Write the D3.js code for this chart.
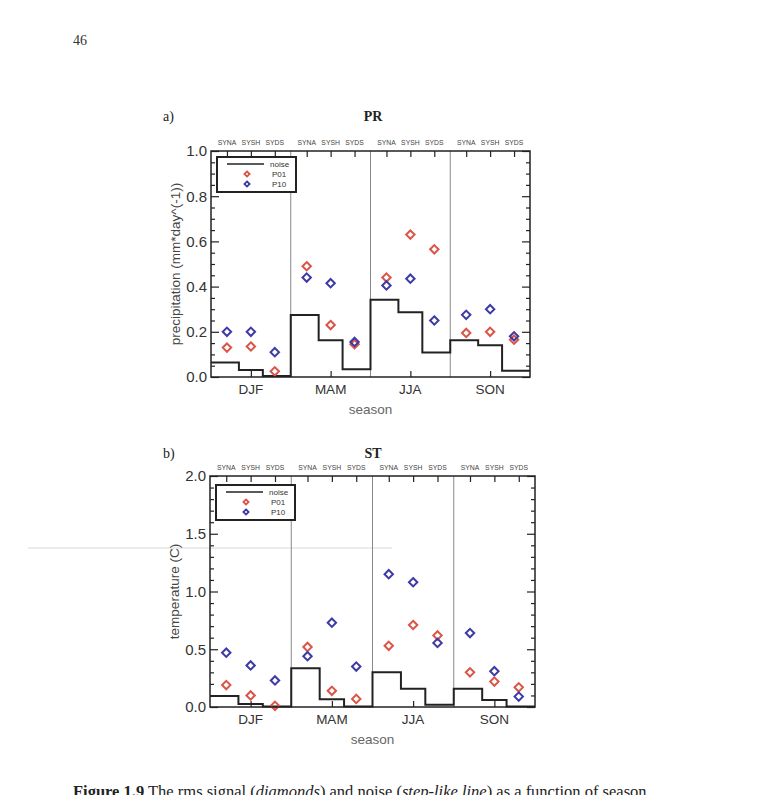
<!DOCTYPE html>
<html><head><meta charset="utf-8">
<script src="https://cdn.jsdelivr.net/npm/d3@7"></script>
<style>html,body{margin:0;padding:0;background:#fff;}</style>
</head><body>
<script>
const seasons = ["DJF","MAM","JJA","SON"];
const experiments = ["SYNA","SYSH","SYDS"];
const legendLabels = ["noise","P01","P10"];

const prP01   = [0.13,0.135,0.025, 0.49,0.23,0.145, 0.44,0.63,0.565, 0.195,0.20,0.165];
const prP10   = [0.20,0.20,0.11,   0.44,0.415,0.155, 0.405,0.435,0.25, 0.275,0.30,0.18];
const prNoise = [0.064,0.031,0.004, 0.274,0.163,0.034, 0.342,0.286,0.108, 0.163,0.141,0.028];

const stP01   = [0.19,0.10,0.01, 0.52,0.14,0.07, 0.53,0.71,0.62, 0.30,0.22,0.17];
const stP10   = [0.47,0.36,0.23, 0.44,0.73,0.35, 1.15,1.08,0.555, 0.64,0.31,0.09];
const stNoise = [0.095,0.026,0.004, 0.335,0.067,0.004, 0.30,0.158,0.02, 0.158,0.061,0.005];

const prTicks = [0,0.2,0.4,0.6,0.8,1.0];
const stTicks = [0,0.5,1.0,1.5,2.0];

const W = 777, H = 795;
const svg = d3.select("body").append("svg").attr("width",W).attr("height",H)
  .style("font-family","'Liberation Sans', Arial, sans-serif");

const RED = "#dc5446", BLUE = "#3d3aa6", INK = "#222";

// page texts
svg.append("text").attr("x",73).attr("y",45).text("46")
  .style("font-family","'Liberation Serif', serif").style("font-size","14px").attr("fill","#333");
svg.append("text").attr("x",73).attr("y",797)
  .style("font-family","'Liberation Serif', serif").style("font-size","16.5px").attr("fill","#222")
  .html("<tspan font-weight='bold'>Figure 1.9</tspan> The rms signal (<tspan font-style='italic'>diamonds</tspan>) and noise (<tspan font-style='italic'>step-like line</tspan>) as a function of season");
// faint scan line
svg.append("line").attr("x1",28).attr("x2",392).attr("y1",548).attr("y2",548)
  .attr("stroke","#d8d8d8").attr("stroke-width",1);

function panel(cfg){
  const {left,right,top,bottom,ymax,ticks,minor,p01,p10,noise,title,letter,ylabel,fmt,legend,titleY} = cfg;
  const x = d3.scaleLinear().domain([0,40]).range([left,right]);
  const y = d3.scaleLinear().domain([0,ymax]).range([bottom,top]);
  const g = svg.append("g");
  const pos = i => Math.floor(i/3)*10 + [2,5,8][i%3];

  // titles
  g.append("text").attr("x",163).attr("y",titleY).text(letter)
    .style("font-family","'Liberation Serif', serif").style("font-size","14px").attr("fill","#222");
  g.append("text").attr("x",373).attr("y",titleY).attr("text-anchor","middle").text(title)
    .style("font-family","'Liberation Serif', serif").style("font-size","14px").style("font-weight","bold").attr("fill","#222");

  // season dividers
  g.selectAll(".div").data([1,2,3]).join("line")
    .attr("x1",d=>x(d*10)).attr("x2",d=>x(d*10)).attr("y1",top).attr("y2",bottom)
    .attr("stroke","#888").attr("stroke-width",1);

  // axes (inward ticks)
  const yl = d3.axisRight(y).tickValues(ticks).tickSize(8).tickFormat("");
  const yr = d3.axisLeft(y).tickValues(ticks).tickSize(8).tickFormat("");
  const ylm = d3.axisRight(y).tickValues(minor).tickSize(4).tickFormat("");
  const yrm = d3.axisLeft(y).tickValues(minor).tickSize(4).tickFormat("");
  [[yl,left],[ylm,left],[yr,right],[yrm,right]].forEach(([ax,px])=>{
    const a = g.append("g").attr("transform",`translate(${px},0)`).call(ax);
    a.select(".domain").remove();
    a.selectAll("line").attr("stroke",INK).attr("stroke-width",1.2);
  });
  // y tick labels
  g.selectAll(".yt").data(ticks).join("text")
    .attr("x",left-4).attr("y",d=>y(d)).attr("dy","0.36em").attr("text-anchor","end")
    .text(d=>fmt(d)).style("font-size","15px").attr("fill","#333");

  const pts = d3.range(12);
  const xtTop = d3.axisBottom(x).tickValues(pts.map(pos)).tickSize(6).tickFormat("");
  const at = g.append("g").attr("transform",`translate(0,${top})`).call(xtTop);
  at.select(".domain").remove(); at.selectAll("line").attr("stroke",INK).attr("stroke-width",1.2);
  const xtBot = d3.axisTop(x).tickValues([5,15,25,35]).tickSize(6).tickFormat("");
  const ab = g.append("g").attr("transform",`translate(0,${bottom})`).call(xtBot);
  ab.select(".domain").remove(); ab.selectAll("line").attr("stroke",INK).attr("stroke-width",1.2);

  // experiment labels on top
  g.selectAll(".exp").data(pts).join("text")
    .attr("x",i=>x(pos(i))).attr("y",top-6).attr("text-anchor","middle")
    .text(i=>experiments[i%3]).style("font-size","6.8px").attr("fill","#444");

  // season labels
  g.selectAll(".sea").data(seasons).join("text")
    .attr("x",(d,i)=>x(i*10+5)).attr("y",bottom+17).attr("text-anchor","middle")
    .text(d=>d).style("font-size","13.5px").attr("fill","#333");
  g.append("text").attr("x",x(20)).attr("y",bottom+37).attr("text-anchor","middle")
    .text("season").style("font-size","13.5px").attr("fill","#666");
  g.append("text").attr("transform",`translate(${left-31},${(top+bottom)/2}) rotate(-90)`)
    .attr("text-anchor","middle").text(ylabel).style("font-size","13.5px").attr("fill","#444");

  // noise step
  const stepPts = pts.map(i=>[Math.floor(i/3)*10 + [0,3.5,6.5][i%3], noise[i]]);
  stepPts.push([40, noise[11]]);
  g.append("path").datum(stepPts)
    .attr("d", d3.line().x(d=>x(d[0])).y(d=>y(d[1])).curve(d3.curveStepAfter))
    .attr("fill","none").attr("stroke",INK).attr("stroke-width",2);

  // diamonds
  const diamond = (cx,cy,r) => `M${cx},${cy-r}L${cx+r},${cy}L${cx},${cy+r}L${cx-r},${cy}Z`;
  [[p01,RED],[p10,BLUE]].forEach(([vals,col])=>{
    g.selectAll(null).data(pts).join("path")
      .attr("d",i=>diamond(x(pos(i)),y(vals[i]),4.2))
      .attr("fill","none").attr("stroke",col).attr("stroke-width",2);
  });

  // frame
  g.append("rect").attr("x",left).attr("y",top).attr("width",right-left).attr("height",bottom-top)
    .attr("fill","none").attr("stroke",INK).attr("stroke-width",1.5);

  // legend
  const L = legend;
  g.append("rect").attr("x",L.x).attr("y",L.y).attr("width",79).attr("height",35)
    .attr("fill","#fff").attr("stroke",INK).attr("stroke-width",2);
  g.append("line").attr("x1",L.x+10).attr("x2",L.x+47).attr("y1",L.y+7).attr("y2",L.y+7)
    .attr("stroke",INK).attr("stroke-width",1.5);
  g.append("path").attr("d",diamond(L.x+30,L.y+17,2.6)).attr("fill","none").attr("stroke",RED).attr("stroke-width",1.8);
  g.append("path").attr("d",diamond(L.x+30,L.y+27,2.6)).attr("fill","none").attr("stroke",BLUE).attr("stroke-width",1.8);
  g.selectAll(".lt").data(legendLabels).join("text")
    .attr("x",(d,i)=>i===0?L.x+53:L.x+55).attr("y",(d,i)=>L.y+7+i*10).attr("dy","0.35em")
    .text(d=>d).style("font-size","8px").attr("fill","#333");
}

panel({left:211,right:530,top:151,bottom:377,ymax:1,ticks:prTicks,titleY:121,
  minor:d3.range(0,1.0001,0.05).filter(v=>Math.abs(v*5-Math.round(v*5))>1e-6),
  p01:prP01,p10:prP10,noise:prNoise,title:"PR",letter:"a)",
  ylabel:"precipitation (mm*day^(-1))",fmt:d3.format(".1f"),legend:{x:217,y:157}});

panel({left:210,right:535,top:476,bottom:707,ymax:2,ticks:stTicks,titleY:458,
  minor:d3.range(0,2.0001,0.1).filter(v=>Math.abs(v*2-Math.round(v*2))>1e-6),
  p01:stP01,p10:stP10,noise:stNoise,title:"ST",letter:"b)",
  ylabel:"temperature (C)",fmt:d3.format(".1f"),legend:{x:216,y:485}});
</script>
</body></html>
